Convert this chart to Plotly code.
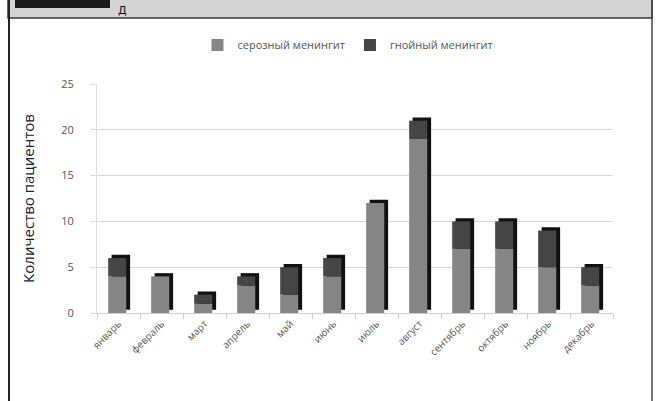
import plotly.graph_objects as go

months = ["январь", "февраль", "март", "апрель", "май", "июнь",
          "июль", "август", "сентябрь", "октябрь", "ноябрь", "декабрь"]
serous = [4, 4, 1, 3, 2, 4, 12, 19, 7, 7, 5, 3]
purulent = [2, 0, 1, 1, 3, 2, 0, 2, 3, 3, 4, 2]
totals = [a + b for a, b in zip(serous, purulent)]
yticks = [0, 5, 10, 15, 20, 25]

W, H = 656, 401
L, R, T, B = 97, 43, 84, 88
pw, ph = W - L - R, H - T - B

def px(x):
    return (x - L) / pw

def py(y):
    return (H - B - y) / ph

fig = go.Figure()
# 3D side/shadow of each column
fig.add_trace(go.Bar(x=months, y=totals, base=[0.35] * len(months),
                     offset=-0.16, width=0.43, marker_color="#111111",
                     marker_line_width=0, showlegend=False, hoverinfo="skip"))
fig.add_trace(go.Bar(x=months, y=serous, base=[0] * len(months), name="серозный менингит",
                     offset=-0.24, width=0.42, marker_color="#858585",
                     marker_line_width=0))
fig.add_trace(go.Bar(x=months, y=purulent, base=serous, name="гнойный менингит",
                     offset=-0.24, width=0.42, marker_color="#454545",
                     marker_line_width=0))

shapes = [
    # header band
    dict(type="rect", xref="paper", yref="paper", x0=px(8), x1=px(652), y0=py(18), y1=py(-2),
         fillcolor="#d4d4d4", line=dict(color="#3a3a3a", width=1.5), layer="below"),
    dict(type="rect", xref="paper", yref="paper", x0=px(15), x1=px(110), y0=py(8), y1=py(-2),
         fillcolor="#1a1a1a", line=dict(width=0)),
    # frame borders
    dict(type="line", xref="paper", yref="paper", x0=px(9), x1=px(9), y0=py(-2), y1=py(403),
         line=dict(color="#222", width=2)),
    dict(type="line", xref="paper", yref="paper", x0=px(652), x1=px(652), y0=py(-2), y1=py(403),
         line=dict(color="#444", width=1.5)),
]

fig.update_layout(
    width=W, height=H,
    margin=dict(l=L, r=R, t=T, b=B),
    paper_bgcolor="white", plot_bgcolor="white",
    barmode="overlay",
    font=dict(family="Open Sans, DejaVu Sans, sans-serif", color="#555"),
    shapes=shapes,
    annotations=[dict(text="Д", xref="paper", yref="paper", x=px(116), y=py(2),
                      xanchor="left", yanchor="top", showarrow=False,
                      font=dict(size=11, color="#111", family="DejaVu Sans"))],
    legend=dict(orientation="h", x=px(348), xanchor="center", y=py(45), yanchor="middle",
                font=dict(size=11, color="#555"), itemwidth=30, traceorder="normal",
                bgcolor="rgba(0,0,0,0)"),
    xaxis=dict(tickangle=-45, tickfont=dict(size=10, color="#555"),
               showline=True, linecolor="#d0d0d0", ticks="outside", tickcolor="#d0d0d0",
               ticklen=5, tickson="boundaries", showgrid=False),
    yaxis=dict(range=[0, 25], tickvals=yticks, tickfont=dict(size=11, color="#555"),
               showgrid=True, gridcolor="#d8d8d8", zeroline=False,
               showline=True, linecolor="#dcdcdc", ticks="outside", tickcolor="#dcdcdc",
               ticklen=6, ticklabelstandoff=14,
               title=dict(text="Количество пациентов", font=dict(size=15, color="#222"),
                          standoff=22)),
)

fig.write_html("out.html")
